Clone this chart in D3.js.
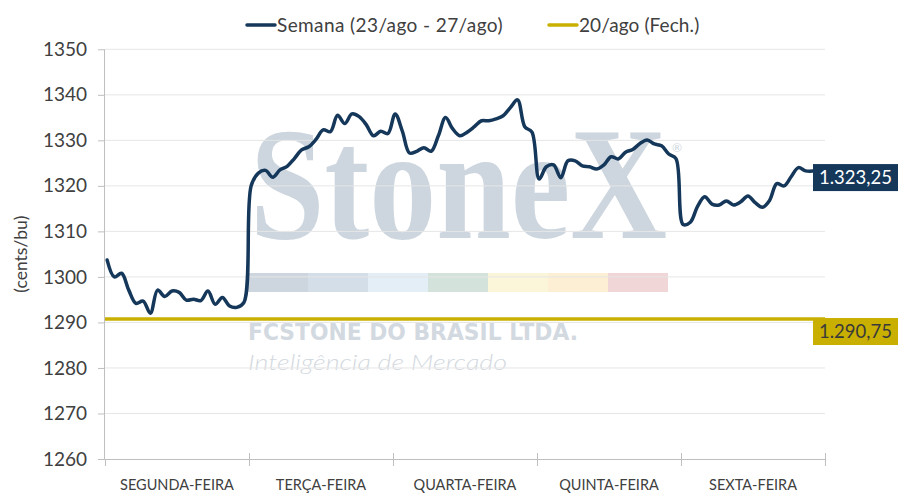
<!DOCTYPE html>
<html>
<head>
<meta charset="utf-8">
<script src="https://cdn.jsdelivr.net/npm/d3@7"></script>
<style>
  body { margin: 0; background: #fff; }
  svg { display: block; font-family: Lato, "Open Sans", sans-serif; }
</style>
</head>
<body>
<svg id="chart" width="900" height="501"></svg>
<script>
// dias da semana (eixo x)
let days = ['SEGUNDA-FEIRA', 'TERÇA-FEIRA', 'QUARTA-FEIRA', 'QUINTA-FEIRA', 'SEXTA-FEIRA'];
let pointsPerDay = 20;

// semana 23/ago - 27/ago, cents/bu
let semana = [
  1303.7, 1300.0, 1300.8, 1297.1, 1294.2, 1294.7, 1292.0, 1297.1, 1295.7, 1296.9,
  1296.6, 1294.9, 1295.1, 1294.8, 1296.9, 1294.0, 1295.5, 1293.6, 1293.3, 1294.4,
  1320.0, 1322.8, 1323.4, 1321.9, 1323.5, 1324.3, 1326.0, 1327.9, 1328.6, 1330.2,
  1332.3, 1331.9, 1335.5, 1333.7, 1335.8, 1335.2, 1333.4, 1331.0, 1332.0, 1331.5,
  1335.8, 1332.0, 1327.2, 1327.6, 1328.4, 1327.6, 1331.0, 1335.0, 1332.5, 1331.0,
  1331.8, 1333.0, 1334.3, 1334.3, 1334.7, 1335.4, 1337.2, 1338.9, 1333.0, 1331.8,
  1321.5, 1324.2, 1324.6, 1321.8, 1325.5, 1325.5, 1324.4, 1324.2, 1323.7, 1324.6,
  1326.4, 1325.9, 1327.4, 1328.0, 1329.3, 1330.1, 1329.2, 1328.8, 1327.0, 1326.0,
  1311.5, 1312.0, 1315.5, 1317.6, 1316.0, 1315.8, 1316.7, 1315.8, 1316.5, 1317.8,
  1316.3, 1315.3, 1316.8, 1320.5, 1320.0, 1322.0, 1324.0, 1323.3, 1323.25
];

// fechamento 20/ago
let fechamento = 1290.75;

let yTicks = [1260, 1270, 1280, 1290, 1300, 1310, 1320, 1330, 1340, 1350];
let legendNames = ['Semana (23/ago - 27/ago)', '20/ago (Fech.)'];

let navy = '#14375a', gold = '#c9b000', axisGray = '#bfbfbf', textGray = '#404040';
let fmt = v => d3.format(',.2f')(v).replace(/,/g, '#').replace('.', ',').replace(/#/g, '.');

let plotLeft = 105, plotRight = 825, plotTop = 49.3, plotBottom = 459;
let svg = d3.select('#chart');

let x = d3.scaleLinear().domain([0, days.length]).range([plotLeft, plotRight]);
let y = d3.scaleLinear().domain([1260, 1350]).range([plotBottom, plotTop]);
let xi = i => x((i + 0.3) / pointsPerDay);

// marca d'agua
let wm = svg.append('g').attr('class', 'watermark');
wm.append('text')
  .attr('x', 250).attr('y', 238)
  .attr('font-family', '"Liberation Serif", "DejaVu Serif", serif')
  .attr('font-weight', 'bold')
  .attr('font-size', 160)
  .attr('textLength', 417).attr('lengthAdjust', 'spacingAndGlyphs')
  .attr('fill', '#cdd6de')
  .text('StoneX');
wm.append('text')
  .attr('x', 672).attr('y', 152)
  .attr('font-size', 12).attr('fill', '#cdd6de')
  .text('®');
let stripe = ['#cdd5de', '#d4dee8', '#e3eef6', '#d3e3dc', '#fbf6da', '#fdefd4', '#f0d6d7'];
wm.selectAll('rect.stripe')
  .data(stripe)
  .enter()
  .append('rect')
  .attr('x', (d, i) => 248 + i * 60)
  .attr('y', 273)
  .attr('width', 60)
  .attr('height', 19)
  .attr('fill', d => d);
wm.append('text')
  .attr('x', 248).attr('y', 340)
  .attr('font-family', '"DejaVu Sans", sans-serif')
  .attr('font-weight', 'bold').attr('font-size', 23)
  .attr('textLength', 330).attr('lengthAdjust', 'spacingAndGlyphs')
  .attr('fill', '#d3d9e0')
  .text('FCSTONE DO BRASIL LTDA.');
wm.append('text')
  .attr('x', 248).attr('y', 370)
  .attr('font-family', 'Lato, sans-serif')
  .attr('font-style', 'italic').attr('font-weight', 300).attr('font-size', 21)
  .attr('textLength', 259).attr('lengthAdjust', 'spacingAndGlyphs')
  .attr('fill', '#d3d9e0')
  .text('Inteligência de Mercado');

// grade
svg.append('g')
  .selectAll('line')
  .data(yTicks.slice(1))
  .enter()
  .append('line')
  .attr('x1', plotLeft).attr('x2', plotRight)
  .attr('y1', d => y(d)).attr('y2', d => y(d))
  .attr('stroke', '#e6e6e6').attr('stroke-width', 1);

// eixo y
let yAxis = svg.append('g')
  .attr('transform', 'translate(' + plotLeft + ',0)')
  .call(d3.axisLeft(y).tickValues(yTicks).tickSize(7).tickPadding(11).tickFormat(d3.format('d')));
yAxis.select('.domain').attr('stroke', axisGray).attr('d', 'M-0.5,' + plotTop + 'V' + plotBottom);
yAxis.selectAll('.tick line').attr('stroke', axisGray);
yAxis.selectAll('.tick text')
  .attr('font-size', 19).attr('fill', textGray).attr('font-family', 'Lato, sans-serif');

// eixo x
let xAxis = svg.append('g')
  .attr('transform', 'translate(0,' + plotBottom + ')')
  .call(d3.axisBottom(x).tickValues(d3.range(days.length + 1)).tickSize(7).tickFormat(''));
xAxis.select('.domain').attr('stroke', axisGray).attr('d', 'M' + (plotLeft - 7) + ',0.5H' + plotRight);
xAxis.selectAll('.tick line').attr('stroke', axisGray).attr('y1', d => d === 0 ? 0 : -6);

svg.append('g')
  .selectAll('text')
  .data(days)
  .enter()
  .append('text')
  .attr('x', (d, i) => x(i + 0.5))
  .attr('y', 490)
  .attr('text-anchor', 'middle')
  .attr('font-size', 14.5)
  .attr('fill', textGray)
  .text(d => d);

// titulo eixo y
svg.append('text')
  .attr('transform', 'translate(27,' + ((plotTop + plotBottom) / 2) + ') rotate(-90)')
  .attr('text-anchor', 'middle')
  .attr('font-size', 17.5)
  .attr('fill', textGray)
  .text('(cents/bu)');

// linha de fechamento
svg.append('line')
  .attr('x1', plotLeft).attr('x2', plotRight)
  .attr('y1', y(fechamento)).attr('y2', y(fechamento))
  .attr('stroke', gold).attr('stroke-width', 3.5);

// linha da semana
let line = d3.line()
  .x((d, i) => xi(i))
  .y(d => y(d))
  .curve(d3.curveCatmullRom.alpha(0.5));

svg.append('path')
  .datum(semana)
  .attr('d', line)
  .attr('fill', 'none')
  .attr('stroke', navy)
  .attr('stroke-width', 3.5)
  .attr('stroke-linejoin', 'round')
  .attr('stroke-linecap', 'round');

// rotulos de valor
let last = semana[semana.length - 1];
let labels = [
  { value: last, bg: navy, color: '#fff', yTop: y(last) - 7 },
  { value: fechamento, bg: gold, color: '#3a3a3a', yTop: y(fechamento) - 1 }
];
let lab = svg.append('g')
  .selectAll('g')
  .data(labels)
  .enter()
  .append('g')
  .attr('transform', d => 'translate(813,' + d.yTop + ')');
lab.append('rect')
  .attr('width', 85).attr('height', 27)
  .attr('fill', d => d.bg);
lab.append('text')
  .attr('x', 42.5).attr('y', 20)
  .attr('text-anchor', 'middle')
  .attr('font-size', 18.5)
  .attr('fill', d => d.color)
  .text(d => fmt(d.value));

// legenda
let legendColors = [navy, gold];
let legendX = [247, 549];
let legendSpacing = [0.4, 0.1];
let lg = svg.append('g')
  .selectAll('g')
  .data(legendNames)
  .enter()
  .append('g')
  .attr('transform', (d, i) => 'translate(' + legendX[i] + ',25)');
lg.append('line')
  .attr('x1', 0).attr('x2', 28)
  .attr('stroke', (d, i) => legendColors[i])
  .attr('stroke-width', 3.5)
  .attr('stroke-linecap', 'round');
lg.append('text')
  .attr('x', 30).attr('y', 7)
  .attr('font-size', 19)
  .attr('letter-spacing', (d, i) => legendSpacing[i])
  .attr('fill', textGray)
  .text(d => d);
</script>
</body>
</html>
